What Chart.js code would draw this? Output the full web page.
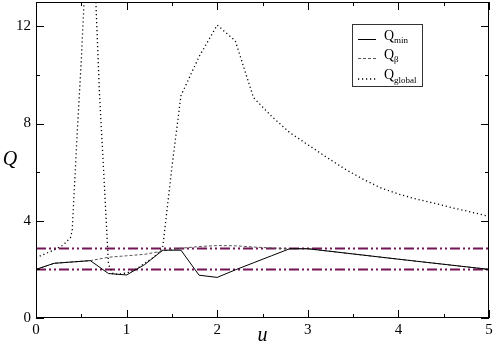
<!DOCTYPE html>
<html>
<head>
<meta charset="utf-8">
<script src="https://cdn.jsdelivr.net/npm/chart.js@4/dist/chart.umd.min.js"></script>
<style>
  body { margin: 0; background: #fff; }
  #wrap { width: 493px; height: 346px; }
</style>
</head>
<body>
<div id="wrap"><canvas id="qChart"></canvas></div>
<script>
// Q_min (solid)
const minU = [0, 0.2, 0.6, 0.8, 1.0, 1.2, 1.4, 1.6, 1.8, 2.0, 2.2, 2.4, 2.6, 2.8, 3.0, 4.0, 5.0];
const minQ = [2.0, 2.25, 2.36, 1.83, 1.77, 2.2, 2.79, 2.79, 1.76, 1.67, 1.98, 2.27, 2.56, 2.85, 2.85, 2.42, 2.0];

// Q_beta (dashed)
const betaU = [0, 0.2, 0.6, 0.8, 1.0, 1.2, 1.4, 1.6, 1.8, 2.0, 2.2, 2.4, 2.6, 2.8, 3.0, 4.0, 5.0];
const betaQ = [2.0, 2.25, 2.36, 2.5, 2.56, 2.62, 2.76, 2.87, 2.94, 2.98, 2.97, 2.92, 2.88, 2.85, 2.85, 2.42, 2.0];

// Q_global (dotted)
const globalU = [0, 0.2, 0.3, 0.38, 0.4, 0.45, 0.5, 0.55, 0.6, 0.65, 0.7, 0.75, 0.8, 0.85, 0.9, 1.0, 1.1, 1.2, 1.3, 1.37, 1.4, 1.5, 1.6, 1.8, 2.0, 2.2, 2.4, 2.6, 2.8, 3.0, 3.2, 3.4, 3.6, 3.8, 4.0, 4.2, 4.4, 4.6, 4.8, 5.0];
const globalQ = [2.48, 2.8, 3.0, 3.3, 3.6, 7.3, 10.6, 14.5, 18, 14, 9.3, 5.8, 2.2, 1.82, 1.8, 1.85, 2.0, 2.25, 2.5, 2.75, 2.95, 6.2, 9.15, 10.75, 12.05, 11.4, 9.07, 8.3, 7.63, 7.13, 6.63, 6.15, 5.73, 5.36, 5.1, 4.89, 4.72, 4.53, 4.36, 4.18];

// reference levels (dash-dot)
const levelUpper = 2.86;
const levelLower = 2.0;

const xTicks = [0, 1, 2, 3, 4, 5];
const xMinor = [0.5, 1.5, 2.5, 3.5, 4.5];
const yTicks = [0, 4, 8, 12];
const yMinor = [2, 6, 10];

const serif = "'Liberation Serif', 'DejaVu Serif', serif";
const levelColor = '#741558';

function pairs(us, qs) {
    return us.map((u, i) => ({ x: u, y: qs[i] }));
}

// box, inward ticks, axis titles and legend
const framePlugin = {
    id: 'frame',
    afterDraw(chart) {
        const { ctx, chartArea: a, scales: { x, y } } = chart;
        ctx.save();
        ctx.strokeStyle = '#000';
        ctx.lineWidth = 1;
        ctx.strokeRect(a.left + 0.5, a.top + 0.5, a.right - a.left - 1, a.bottom - a.top - 1);

        ctx.beginPath();
        const xt = (v, len) => {
            const px = Math.round(x.getPixelForValue(v)) + 0.5;
            ctx.moveTo(px, a.bottom); ctx.lineTo(px, a.bottom - len);
            ctx.moveTo(px, a.top); ctx.lineTo(px, a.top + len);
        };
        const yt = (v, len) => {
            const py = Math.round(y.getPixelForValue(v)) + 0.5;
            ctx.moveTo(a.left, py); ctx.lineTo(a.left + len, py);
            ctx.moveTo(a.right, py); ctx.lineTo(a.right - len, py);
        };
        xTicks.forEach(v => xt(v, 8));
        xMinor.forEach(v => xt(v, 4));
        yTicks.forEach(v => yt(v, 8));
        yMinor.forEach(v => yt(v, 4));
        ctx.stroke();

        // axis titles
        ctx.fillStyle = '#000';
        ctx.font = 'italic 20px ' + serif;
        ctx.textAlign = 'center';
        ctx.textBaseline = 'middle';
        ctx.fillText('Q', 10, (a.top + a.bottom) / 2);
        ctx.fillText('u', (a.left + a.right) / 2, 336);

        // legend
        const lx = 352.5, ly = 24.5, lw = 70, lh = 62;
        ctx.fillStyle = '#fff';
        ctx.fillRect(lx, ly, lw, lh);
        ctx.strokeStyle = '#333';
        ctx.strokeRect(lx, ly, lw, lh);
        const entries = [
            { sub: 'min', dash: [], color: '#000', base: 39.5 },
            { sub: 'β', dash: [3, 2], color: '#555', base: 58.5 },
            { sub: 'global', dash: [1.2, 2.8], color: '#000', base: 79 }
        ];
        ctx.textAlign = 'left';
        ctx.textBaseline = 'alphabetic';
        entries.forEach(e => {
            ctx.beginPath();
            ctx.setLineDash(e.dash);
            ctx.strokeStyle = e.color;
            ctx.lineWidth = e.dash.length === 2 && e.dash[0] < 2 ? 1.3 : 1;
            ctx.moveTo(358, e.base);
            ctx.lineTo(376, e.base);
            ctx.stroke();
            ctx.setLineDash([]);
            ctx.fillStyle = '#000';
            ctx.font = '14px ' + serif;
            ctx.fillText('Q', 384, e.base);
            ctx.font = '9px ' + serif;
            ctx.fillText(e.sub, 394, e.base + 3.5);
        });
        ctx.restore();
    }
};

const ctx = document.getElementById('qChart').getContext('2d');
const qChart = new Chart(ctx, {
    type: 'line',
    data: {
        datasets: [
            {
                label: 'Q_min',
                data: pairs(minU, minQ),
                borderColor: '#000',
                borderWidth: 1,
                order: 2
            },
            {
                label: 'Q_beta',
                data: pairs(betaU, betaQ),
                borderColor: '#555',
                borderWidth: 1,
                borderDash: [3, 2],
                order: 3
            },
            {
                label: 'Q_global',
                data: pairs(globalU, globalQ),
                borderColor: '#000',
                borderWidth: 1.3,
                borderDash: [1.2, 2.8],
                order: 1
            },
            {
                label: 'upper level',
                data: [{ x: 0, y: levelUpper }, { x: 5, y: levelUpper }],
                borderColor: levelColor,
                borderWidth: 2,
                borderDash: [10, 3, 2, 3, 2, 3],
                order: 4
            },
            {
                label: 'lower level',
                data: [{ x: 0, y: levelLower }, { x: 5, y: levelLower }],
                borderColor: levelColor,
                borderWidth: 2,
                borderDash: [10, 3, 2, 3, 2, 3],
                order: 4
            }
        ]
    },
    options: {
        responsive: true,
        maintainAspectRatio: false,
        animation: false,
        elements: {
            point: { radius: 0 },
            line: { tension: 0 }
        },
        layout: { padding: { left: 0, right: 4, top: 2, bottom: 0 } },
        plugins: {
            legend: { display: false },
            tooltip: { enabled: false }
        },
        scales: {
            x: {
                type: 'linear',
                min: 0,
                max: 5,
                grid: { display: false, drawTicks: false },
                border: { display: false },
                ticks: {
                    color: '#000',
                    font: { family: serif, size: 15 },
                    padding: 3,
                    maxRotation: 0
                },
                afterBuildTicks: scale => { scale.ticks = xTicks.map(v => ({ value: v })); },
                afterFit: scale => {
                    scale.height = 28;
                    scale.paddingLeft = 0;
                    scale.paddingRight = 0;
                }
            },
            y: {
                type: 'linear',
                min: 0,
                max: 13,
                grid: { display: false, drawTicks: false },
                border: { display: false },
                ticks: {
                    color: '#000',
                    font: { family: serif, size: 15 },
                    padding: 5
                },
                afterBuildTicks: scale => { scale.ticks = yTicks.map(v => ({ value: v })); },
                afterFit: scale => {
                    scale.width = 36;
                    scale.paddingTop = 0;
                    scale.paddingBottom = 0;
                }
            }
        }
    },
    plugins: [framePlugin]
});
</script>
</body>
</html>
